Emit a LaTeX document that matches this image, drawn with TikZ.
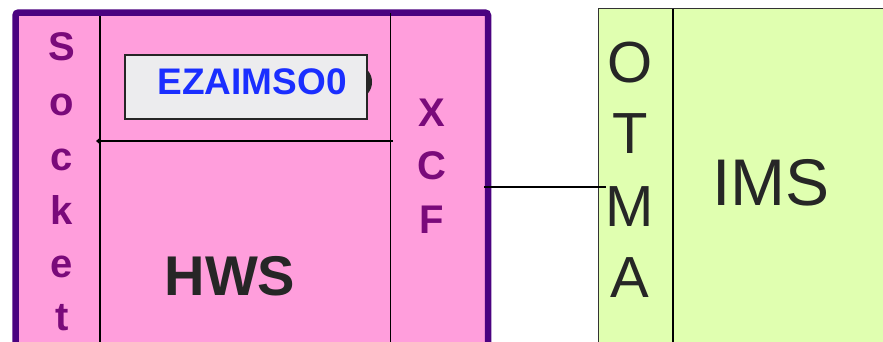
\documentclass[tikz,border=0pt]{standalone}
\usepackage{fontspec}
\setmainfont{Liberation Sans}
\usetikzlibrary{arrows.meta}
\definecolor{pinkfill}{HTML}{FF9EDC}
\definecolor{purpleborder}{HTML}{4B0280}
\definecolor{socketcol}{HTML}{7A0A7A}
\definecolor{darktext}{HTML}{262626}
\definecolor{greenfill}{HTML}{E0FFB0}
\definecolor{boxgray}{HTML}{ECECEE}
\definecolor{ezblue}{HTML}{1A2EFF}
\tikzset{
  divider/.style={line width=1.3pt, black},
  sockletter/.style={font=\fontsize{40}{40}\selectfont\bfseries, text=socketcol, inner sep=0pt},
  xcfletter/.style={font=\fontsize{40}{40}\selectfont\bfseries, text=socketcol, inner sep=0pt},
  otmaletter/.style={font=\fontsize{58}{58}\selectfont, text=darktext, inner sep=0pt},
}
\begin{document}
\begin{tikzpicture}[x=1pt,y=-1pt]
\useasboundingbox (0,0) rectangle (883,341);
\clip (0,0) rectangle (883,341);
% pink HWS box
\draw[purpleborder, line width=6.5pt, rounded corners=3pt, fill=pinkfill] (15.5,12.5) rectangle (488,420);
\draw[divider] (100,16) -- (100,420);
\draw[divider] (390.7,13) -- (390.7,420);
% horizontal line with small tip
\coordinate (hr) at (393,141);
\coordinate (hl) at (96,141);
\draw[line width=1.3pt, -{Straight Barb[length=3pt,width=5pt]}] (hr) -- (hl);
% dark oval behind label box
\fill[black!85] (360,82) ellipse [x radius=12pt, y radius=15pt];
\node[draw=black!85, fill=boxgray, line width=1.2pt, minimum width=242pt, minimum height=64pt, inner sep=0pt] (ezbox) at (246,87) {};
\node[font=\fontsize{37}{37}\selectfont\bfseries, text=ezblue, inner sep=0pt] (ezlabel) at (252,82) {EZAIMSO0};
% Socket letters
\node[sockletter] (s1) at (62,47) {S};
\node[sockletter] (s2) at (62,105) {o};
\node[sockletter] (s3) at (62,160) {c};
\node[sockletter] (s4) at (62,210) {k};
\node[sockletter] (s5) at (62,267) {e};
\node[sockletter] (s6) at (62,318) {t};
% XCF letters
\node[xcfletter] (x1) at (432,113) {X};
\node[xcfletter] (x2) at (432,166) {C};
\node[xcfletter] (x3) at (432,220) {F};
% HWS
\node[font=\fontsize{56}{56}\selectfont\bfseries, text=darktext, inner sep=0pt] (hws) at (230,276) {HWS};
% green IMS box
\draw[line width=1.2pt, draw=black!80, fill=greenfill] (598.5,8.5) rectangle (900,420);
\draw[divider] (673,8.5) -- (673,420);
\node[otmaletter] (o1) at (630,63) {O};
\node[otmaletter] (o2) at (630,134) {T};
\node[otmaletter] (o3) at (630,207) {M};
\node[otmaletter] (o4) at (630,278) {A};
\node[font=\fontsize{66}{66}\selectfont, text=darktext, inner sep=0pt] (ims) at (771,183) {IMS};
% connector
\coordinate (c1) at (484,187);
\coordinate (c2) at (606,187);
\draw[line width=1.3pt] (c1) -- (c2);
\end{tikzpicture}
\end{document}
